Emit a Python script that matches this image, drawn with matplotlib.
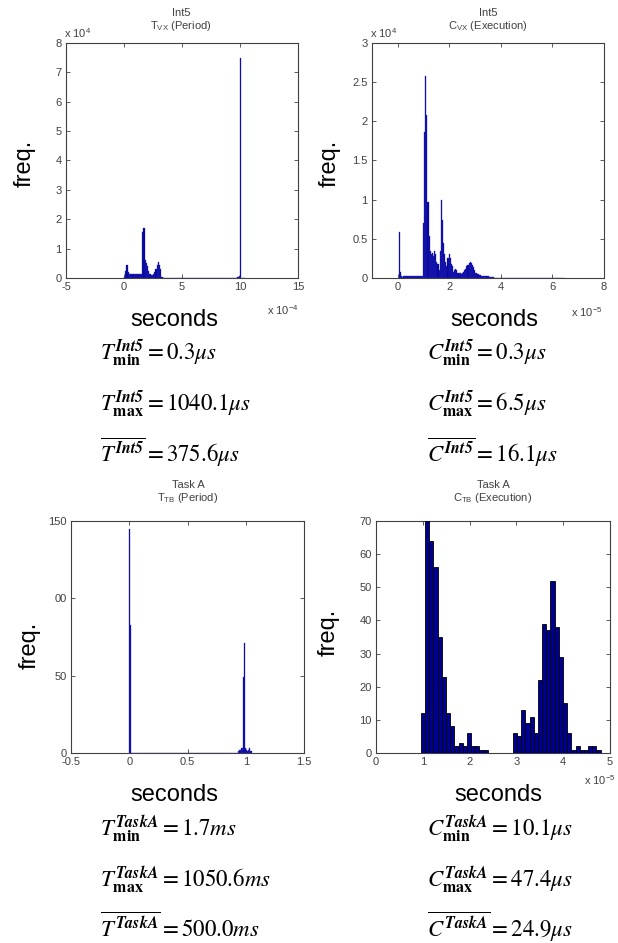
import numpy as np
import matplotlib
matplotlib.use("agg")
import matplotlib.pyplot as plt
from matplotlib.ticker import FixedLocator, FuncFormatter, FixedFormatter

W, H = 618, 943
NAVY = "#000090"
LIGHT = "#2a2ac8"
GREY = "#404040"

plt.rcParams["font.family"] = ["Liberation Sans", "DejaVu Sans"]
plt.rcParams["mathtext.fontset"] = "custom"
plt.rcParams["mathtext.rm"] = "Liberation Sans"
plt.rcParams["mathtext.it"] = "Liberation Sans:italic"
plt.rcParams["mathtext.bf"] = "Liberation Sans:bold"

# Int5 period histogram: 100 bins between min and max (seconds)
int5_period_range = (0.3e-6, 1040.1e-6)
int5_period_nbins = 100
int5_period_head = [500, 2500, 4500, 2000, 1500, 1300, 1400, 1300, 1200, 1300,
                    1400, 1300, 1200, 1400, 1500, 15500, 17000, 6000, 5000, 4000,
                    2500, 1500, 1000, 1000, 1200, 2000, 3000, 4500, 5500, 4500,
                    3000, 200]
int5_period_tail_start = 94
int5_period_tail = [500, 700, 75000]

# Int5 execution histogram: 150 bins
int5_exec_range = (0.3e-6, 65e-6)
int5_exec_nbins = 150
int5_exec_head = [5900, 800,
                  200, 150, 200, 250, 200, 200, 250, 200, 200, 250,
                  300, 250, 200, 200, 250, 300, 250, 200, 250, 300,
                  7000, 18700, 25800, 20800, 9700, 5300, 3500, 3000, 3200, 2800,
                  3500, 3000, 2000, 1800, 1000, 3500, 10000, 7400, 4500, 3000,
                  2000, 1500, 2500, 3100, 2500, 1800, 1500, 800, 1000, 1200,
                  1000, 700, 700, 600, 500, 600, 800, 1000, 1200, 1500,
                  1700, 1900, 2000, 1900, 1700, 1400, 1000, 700, 600, 500,
                  400, 400, 300, 300, 300, 200, 200, 200, 200, 150,
                  100, 100, 100, 100, 50]

# Task A period histogram: 150 bins
taska_period_range = (1.7e-3, 1050.6e-3)
taska_period_nbins = 150
taska_period_head = [145, 83]
taska_period_tail_start = 133
taska_period_tail = [1, 1, 2, 2, 3, 3, 3, 49, 71, 3, 2, 1, 1, 2, 3, 1, 1]

# Task A execution histogram: 43 bins
taska_exec_range = (0.96e-5, 4.80e-5)
taska_exec_counts = [12, 70, 64, 56, 35, 23, 12, 8, 2, 3, 2, 6, 2, 2, 1, 1,
                     0, 0, 0, 0, 0, 0,
                     6, 5, 13, 9, 11, 6, 22, 39, 37, 52, 38, 29, 15, 6, 1, 2,
                     1, 1, 2, 2, 1]

stats_int5_T = [r"$T^{\mathbfit{Int5}}_{\mathbf{min}} = 0.3\mu s$",
                r"$T^{\mathbfit{Int5}}_{\mathbf{max}} = 1040.1\mu s$",
                r"$\overline{T^{\mathbfit{Int5}}} = 375.6\mu s$"]
stats_int5_C = [r"$C^{\mathbfit{Int5}}_{\mathbf{min}} = 0.3\mu s$",
                r"$C^{\mathbfit{Int5}}_{\mathbf{max}} = 6.5\mu s$",
                r"$\overline{C^{\mathbfit{Int5}}} = 16.1\mu s$"]
stats_taska_T = [r"$T^{\mathbfit{TaskA}}_{\mathbf{min}} = 1.7ms$",
                 r"$T^{\mathbfit{TaskA}}_{\mathbf{max}} = 1050.6ms$",
                 r"$\overline{T^{\mathbfit{TaskA}}} = 500.0ms$"]
stats_taska_C = [r"$C^{\mathbfit{TaskA}}_{\mathbf{min}} = 10.1\mu s$",
                 r"$C^{\mathbfit{TaskA}}_{\mathbf{max}} = 47.4\mu s$",
                 r"$\overline{C^{\mathbfit{TaskA}}} = 24.9\mu s$"]


def build_counts(nbins, segments):
    counts = np.zeros(nbins)
    for start, vals in segments:
        counts[start:start + len(vals)] = vals
    return counts


def px_rect(l, t, r, b):
    return [l / W, 1 - b / H, (r - l) / W, (b - t) / H]


def ftext(x, y, s, **kw):
    fig.text(x / W, 1 - y / H, s, **kw)


def draw_hist(rect, lo, hi, counts, edge, lw, xlim, xticks, xscale,
              ylim, yticks, yscale, ylabels=None):
    ax = fig.add_axes(px_rect(*rect))
    edges = np.linspace(lo, hi, len(counts) + 1)
    centers = 0.5 * (edges[:-1] + edges[1:])
    ax.bar(centers, counts, width=edges[1] - edges[0], color=NAVY,
           edgecolor=edge, linewidth=lw, zorder=3)
    ax.set_xlim(*xlim)
    ax.set_ylim(*ylim)
    ax.xaxis.set_major_locator(FixedLocator(xticks))
    ax.yaxis.set_major_locator(FixedLocator(yticks))
    ax.xaxis.set_major_formatter(FuncFormatter(lambda v, p: "%g" % round(v / xscale, 6)))
    if ylabels is None:
        ax.yaxis.set_major_formatter(FuncFormatter(lambda v, p: "%g" % round(v / yscale, 6)))
    else:
        ax.yaxis.set_major_formatter(FixedFormatter(ylabels))
    ax.tick_params(direction="in", length=3, width=0.6, top=True, right=True,
                   labelsize=8, color=GREY, labelcolor=GREY, pad=3)
    for sp in ax.spines.values():
        sp.set_color(GREY)
        sp.set_linewidth(0.8)
    return ax


fig = plt.figure(figsize=(W / 100, H / 100), dpi=100)

# top left: Int5 period
c1 = build_counts(int5_period_nbins, [(0, int5_period_head),
                                      (int5_period_tail_start, int5_period_tail)])
draw_hist((66, 43, 298, 278), *int5_period_range, c1, LIGHT, 0.25,
          (-5e-4, 15e-4), [-5e-4, 0, 5e-4, 10e-4, 15e-4], 1e-4,
          (0, 8e4), np.arange(0, 9) * 1e4, 1e4)

# top right: Int5 execution
c2 = build_counts(int5_exec_nbins, [(0, int5_exec_head)])
draw_hist((372, 43, 604, 278), *int5_exec_range, c2, LIGHT, 0.25,
          (-1e-5, 8e-5), [0, 2e-5, 4e-5, 6e-5, 8e-5], 1e-5,
          (0, 3e4), np.arange(0, 7) * 0.5e4, 1e4)

# bottom left: Task A period
c3 = build_counts(taska_period_nbins, [(0, taska_period_head),
                                       (taska_period_tail_start, taska_period_tail)])
draw_hist((71, 521, 304, 753), *taska_period_range, c3, LIGHT, 0.25,
          (-0.5, 1.5), [-0.5, 0, 0.5, 1, 1.5], 1,
          (0, 150), [0, 50, 100, 150], 1, ylabels=["0", "50", "00", "150"])

# bottom right: Task A execution
draw_hist((376, 521, 610, 753), *taska_exec_range, np.array(taska_exec_counts),
          "black", 0.6,
          (0, 5e-5), [0, 1e-5, 2e-5, 3e-5, 4e-5, 5e-5], 1e-5,
          (0, 70), np.arange(0, 71, 10), 1)

# titles
small = dict(fontsize=8, color=GREY, ha="center", va="center")
ftext(181, 13, "Int5", **small)
ftext(181, 26, r"T$_{\rm VX}$ (Period)", **small)
ftext(488, 13, "Int5", **small)
ftext(488, 26, r"C$_{\rm VX}$ (Execution)", **small)
ftext(188, 485, "Task A", **small)
ftext(188, 498, r"T$_{\rm TB}$ (Period)", **small)
ftext(493, 485, "Task A", **small)
ftext(493, 498, r"C$_{\rm TB}$ (Execution)", **small)

# exponent labels
expo = dict(fontsize=8, color=GREY, ha="left", va="center")
ftext(64, 33, r"x 10$^{4}$", **expo)
ftext(370, 33, r"x 10$^{4}$", **expo)
ftext(267, 310, r"x 10$^{-4}$", **expo)
ftext(571, 312, r"x 10$^{-5}$", **expo)
ftext(584, 780, r"x 10$^{-5}$", **expo)

# axis labels
big = dict(fontsize=17, color="black", ha="center", va="center")
ftext(25, 163, "freq.", rotation=90, **big)
ftext(330, 163, "freq.", rotation=90, **big)
ftext(30, 645, "freq.", rotation=90, **big)
ftext(329, 632, "freq.", rotation=90, **big)
ftext(174, 320, "seconds", **big)
ftext(494, 320, "seconds", **big)
ftext(174, 795, "seconds", **big)
ftext(498, 795, "seconds", **big)

# summary statistics
stat = dict(fontsize=16.5, color="black", ha="left", va="baseline",
            math_fontfamily="stix")
for col_x, lines in [(100, stats_int5_T), (427, stats_int5_C)]:
    for y, s in zip([359, 410, 462], lines):
        ftext(col_x, y, s, **stat)
for col_x, lines in [(100, stats_taska_T), (427, stats_taska_C)]:
    for y, s in zip([836, 887, 937], lines):
        ftext(col_x, y, s, **stat)

fig.savefig("out.png", dpi=100)
